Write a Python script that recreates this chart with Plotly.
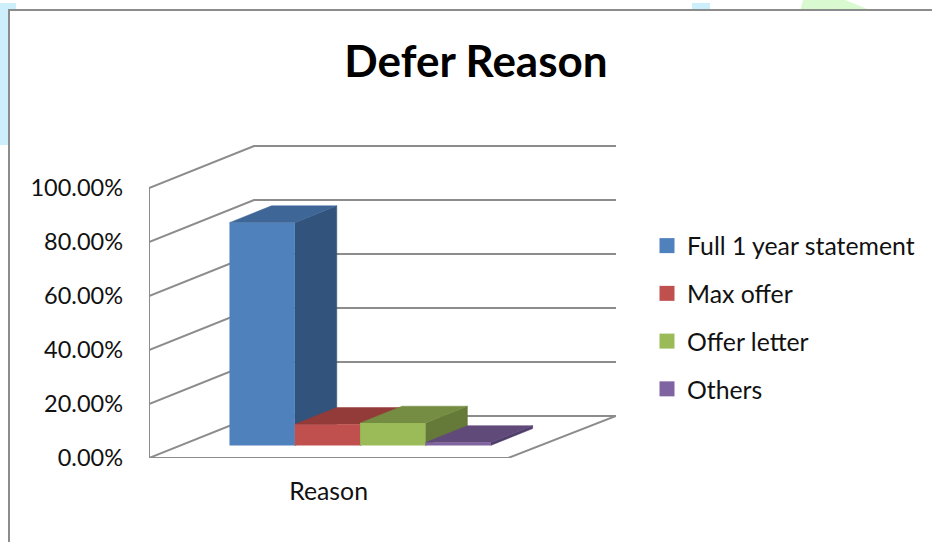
"""Defer Reason - Excel 风格的伪 3D 柱状图"""

import plotly.graph_objects as go

WIDTH = 932
HEIGHT = 542

# ── 数据 ──────────────────────────────────────────────
CATEGORY = "Reason"
SERIES = ["Full 1 year statement", "Max offer", "Offer letter", "Others"]
VALUES = [82.5, 7.8, 8.3, 1.1]
Y_TICKS = [0, 20, 40, 60, 80, 100]

FRONT_COLORS = ["#4F81BD", "#C0504D", "#9BBB59", "#8064A2"]
TOP_COLORS = ["#3E6697", "#933B39", "#758D43", "#604A7A"]
SIDE_COLORS = ["#32547C", "#7E3230", "#657A39", "#4F3D6A"]

GRID_COLOR = "#8C8C8C"
FONT = "Lato, sans-serif"

# 绘图区像素位置
LEFT, RIGHT, TOP, BOTTOM = 149, 616, 145, 458
SLOT_PX = 65.3   # 一根柱子的宽度
PCT_PX = 2.7     # 1% 的高度
WALL_DX = 105 / SLOT_PX
WALL_DY = 42 / PCT_PX
GAP = 0.75
BAR_START = 0.3  # 柱子前表面所在深度
BAR_DEPTH = 0.4
X_MAX = (RIGHT - LEFT) / SLOT_PX
Y_MAX = (BOTTOM - TOP) / PCT_PX
FLOOR_W = 2 * GAP + len(SERIES)


def px_x(x):
    return x / WIDTH


def px_y(y):
    return 1 - y / HEIGHT


def project(x, y, depth):
    """斜投影：把 (x, y, 深度) 换算成坐标轴上的位置。"""
    return x + depth * WALL_DX, y + depth * WALL_DY


def face(points):
    xs, ys = zip(*[project(*p) for p in points])
    return list(xs) + [xs[0]], list(ys) + [ys[0]]


fig = go.Figure()

# 背景残留色块和图表外框
fig.add_shape(type="rect", xref="paper", yref="paper", layer="below",
              x0=px_x(0), x1=px_x(16), y0=px_y(145), y1=px_y(3),
              fillcolor="#CDEEFB", line_width=0)
fig.add_shape(type="rect", xref="paper", yref="paper", layer="below",
              x0=px_x(692), x1=px_x(710), y0=px_y(12), y1=px_y(3),
              fillcolor="#CDEEFB", line_width=0)
fig.add_shape(type="path", xref="paper", yref="paper", layer="below",
              path=f"M{px_x(800)},{px_y(12)} L{px_x(803)},{px_y(0)} "
                   f"L{px_x(845)},{px_y(0)} L{px_x(875)},{px_y(12)} Z",
              fillcolor="#D9F9D0", line_width=0)
fig.add_shape(type="rect", xref="paper", yref="paper", layer="below",
              x0=px_x(9), x1=px_x(WIDTH + 20), y0=px_y(HEIGHT + 20), y1=px_y(10),
              fillcolor="white", line=dict(color=GRID_COLOR, width=2))

# 墙面和底面的网格线
for tick in Y_TICKS[1:]:
    bx, by = project(0, tick, 1)
    fig.add_shape(type="path", layer="below", xref="x", yref="y",
                  path=f"M0,{tick} L{bx},{by} L{X_MAX},{by}",
                  line=dict(color=GRID_COLOR, width=2))
bx, by = project(0, 0, 1)
fig.add_shape(type="path", layer="below", xref="x", yref="y",
              path=f"M0,{Y_TICKS[-1]} L0,0 L{FLOOR_W},0 L{X_MAX},{by} L{bx},{by} L0,0",
              line=dict(color=GRID_COLOR, width=2))

# 柱子侧面和顶面
for i, value in enumerate(VALUES):
    x0 = GAP + i
    x1 = x0 + 1
    back = BAR_START + BAR_DEPTH
    sx, sy = face([(x1, 0, BAR_START), (x1, value, BAR_START), (x1, value, back), (x1, 0, back)])
    tx, ty = face([(x0, value, BAR_START), (x1, value, BAR_START), (x1, value, back), (x0, value, back)])
    for xs, ys, color in [(sx, sy, SIDE_COLORS[i]), (tx, ty, TOP_COLORS[i])]:
        fig.add_trace(go.Scatter(
            x=xs, y=ys, mode="lines", fill="toself", fillcolor=color,
            line=dict(color=color, width=0.5), showlegend=False, hoverinfo="skip",
        ))

# 柱子正面，放在上层坐标系里，盖住侧面
for i, name in enumerate(SERIES):
    fx, base = project(GAP + i + 0.5, 0, BAR_START)
    fig.add_trace(go.Bar(
        x=[fx], y=[VALUES[i]], base=[base], width=[1], name=name,
        xaxis="x2", yaxis="y2", marker=dict(color=FRONT_COLORS[i], line_width=0),
        showlegend=False,
    ))

# 图例
for i, name in enumerate(SERIES):
    fig.add_trace(go.Scatter(
        x=[None], y=[None], mode="markers", name=name, legendgroup=name,
        marker=dict(symbol="square", size=15, color=FRONT_COLORS[i]),
    ))

x_domain = [px_x(LEFT), px_x(RIGHT)]
y_domain = [px_y(BOTTOM), px_y(TOP)]

fig.update_layout(
    width=WIDTH,
    height=HEIGHT,
    margin=dict(l=0, r=0, t=0, b=0),
    paper_bgcolor="white",
    plot_bgcolor="rgba(0,0,0,0)",
    barmode="overlay",
    font=dict(family=FONT, color="#111111", size=24),
    title=dict(
        text="<b>Defer Reason</b>",
        font=dict(family=FONT, size=44, color="#000000"),
        x=px_x(476), xanchor="center", xref="paper",
        y=px_y(62), yanchor="middle", yref="paper",
    ),
    xaxis=dict(
        domain=x_domain, range=[0, X_MAX], showgrid=False, zeroline=False,
        showline=False, tickmode="array", tickvals=[FLOOR_W / 2], ticktext=[CATEGORY],
        ticks="", ticklabelstandoff=16, automargin=False, tickfont=dict(size=24.8),
    ),
    yaxis=dict(
        domain=y_domain, range=[0, Y_MAX], showgrid=False, zeroline=False,
        showline=False, tickmode="array", tickvals=Y_TICKS,
        ticktext=[f"{t:.2f}%" for t in Y_TICKS], ticks="", ticklabelstandoff=25,
        automargin=False, tickfont=dict(size=23.5),
    ),
    xaxis2=dict(domain=x_domain, range=[0, X_MAX], overlaying="x", visible=False),
    yaxis2=dict(domain=y_domain, range=[0, Y_MAX], overlaying="y", visible=False),
    legend=dict(
        x=px_x(647), xanchor="left", y=px_y(223), yanchor="top",
        bgcolor="rgba(0,0,0,0)", traceorder="grouped", tracegroupgap=12.5,
        itemsizing="trace", font=dict(size=24.8),
    ),
)

fig.write_html(
    "out.html",
    config={"displayModeBar": False},
    post_script="document.body.style.margin = '0';",
)
